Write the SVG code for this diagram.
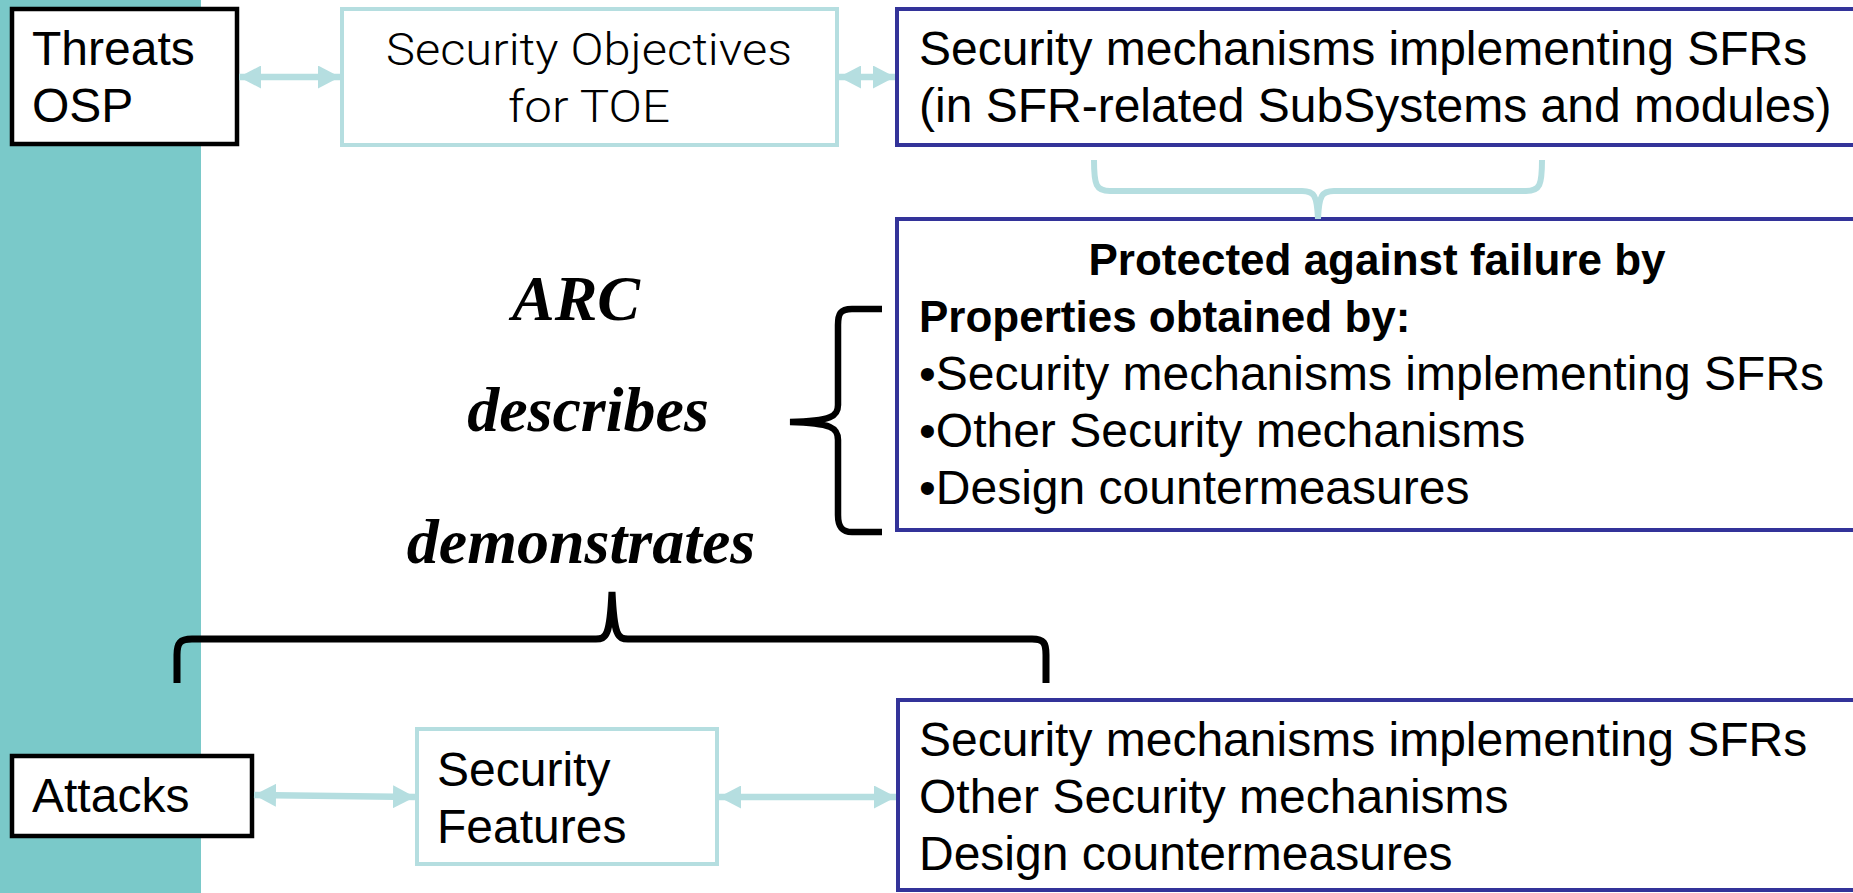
<svg xmlns="http://www.w3.org/2000/svg" width="1853" height="893" viewBox="0 0 1853 893">
<style>
.t{font-family:"Liberation Sans",Arial,sans-serif;font-size:48px;fill:#000}
.b{font-family:"Liberation Sans",Arial,sans-serif;font-size:44px;font-weight:bold;fill:#000}
.lt{font-family:Roboto,"Liberation Sans",sans-serif;font-weight:300;font-size:44px;fill:#000}
.it{font-family:"Liberation Serif","Times New Roman",serif;font-style:italic;font-weight:bold;font-size:64px;fill:#000}
.bk{fill:#fff;stroke:#000;stroke-width:4.5}
.tl{fill:#fff;stroke:#B5DEE0;stroke-width:4}
.bl{fill:#fff;stroke:#333399;stroke-width:4}
.ar{stroke:#B5DEE0;stroke-width:6.5;fill:none}
</style>
<defs>
<marker id="ah" viewBox="0 0 22 23" refX="22" refY="11.5" markerWidth="22" markerHeight="23" markerUnits="userSpaceOnUse" orient="auto-start-reverse">
<path d="M0,0 L22,11.5 L0,23 z" fill="#B5DEE0"/>
</marker>
</defs>
<rect x="0" y="0" width="201" height="893" fill="#7AC9C9"/>
<g id="threats">
<rect class="bk" x="12" y="9" width="225" height="135"/>
<text class="t" x="32" y="65">Threats</text>
<text class="t" x="32" y="122">OSP</text>
</g>
<g id="objectives">
<rect class="tl" x="342" y="9" width="495" height="136"/>
<text class="lt" x="589" y="65" text-anchor="middle" textLength="406" lengthAdjust="spacingAndGlyphs">Security Objectives</text>
<text class="lt" x="589" y="122" text-anchor="middle" textLength="162" lengthAdjust="spacingAndGlyphs">for TOE</text>
</g>
<g id="mechanisms">
<rect class="bl" x="897" y="9" width="980" height="136"/>
<text class="t" x="919" y="65">Security mechanisms implementing SFRs</text>
<text class="t" x="919" y="122">(in SFR-related SubSystems and modules)</text>
</g>
<g id="protected">
<rect class="bl" x="897" y="219" width="980" height="311"/>
<text class="b" x="1377" y="275" text-anchor="middle">Protected against failure by</text>
<text class="b" x="919" y="332">Properties obtained by:</text>
<text class="t" x="919" y="390">•Security mechanisms implementing SFRs</text>
<text class="t" x="919" y="447">•Other Security mechanisms</text>
<text class="t" x="919" y="504">•Design countermeasures</text>
</g>
<g id="arc">
<text class="it" x="576" y="320" text-anchor="middle">ARC</text>
<text class="it" x="588" y="431" text-anchor="middle">describes</text>
<text class="it" x="581" y="563" text-anchor="middle">demonstrates</text>
</g>
<g id="attacks">
<rect class="bk" x="12" y="756" width="240" height="80"/>
<text class="t" x="32" y="812">Attacks</text>
</g>
<g id="features">
<rect class="tl" x="417" y="729" width="300" height="135"/>
<text class="t" x="437" y="786">Security</text>
<text class="t" x="437" y="843">Features</text>
</g>
<g id="bottommech">
<rect class="bl" x="898" y="700" width="980" height="190"/>
<text class="t" x="919" y="756">Security mechanisms implementing SFRs</text>
<text class="t" x="919" y="813">Other Security mechanisms</text>
<text class="t" x="919" y="870">Design countermeasures</text>
</g>
<g id="connectors">
<line class="ar" x1="239" y1="77" x2="340" y2="77" marker-start="url(#ah)" marker-end="url(#ah)"/>
<line class="ar" x1="839" y1="77" x2="895" y2="77" marker-start="url(#ah)" marker-end="url(#ah)"/>
<line class="ar" x1="254" y1="795" x2="415" y2="797" marker-start="url(#ah)" marker-end="url(#ah)"/>
<line class="ar" x1="719" y1="797" x2="896" y2="797" marker-start="url(#ah)" marker-end="url(#ah)"/>
<path d="M1094,160 C1094,185 1096,191 1110,191 L1302,191 C1314,191 1317,195 1318,219 C1319,195 1322,191 1334,191 L1526,191 C1540,191 1542,185 1542,160" fill="none" stroke="#B5DEE0" stroke-width="6"/>
<path d="M882,309 L852,309 C840,309 838,314 838,325 L838,405 C838,416 832,421 790,422 C832,423 838,428 838,440 L838,515 C838,527 842,532 852,532 L882,532" fill="none" stroke="#000" stroke-width="6.5"/>
<path d="M177,683 L177,655 C177,643 180,639 192,639 L596,639 C606,639 610,636 612,592 C614,636 618,639 628,639 L1032,639 C1044,639 1046,643 1046,655 L1046,683" fill="none" stroke="#000" stroke-width="7"/>
</g>
</svg>
